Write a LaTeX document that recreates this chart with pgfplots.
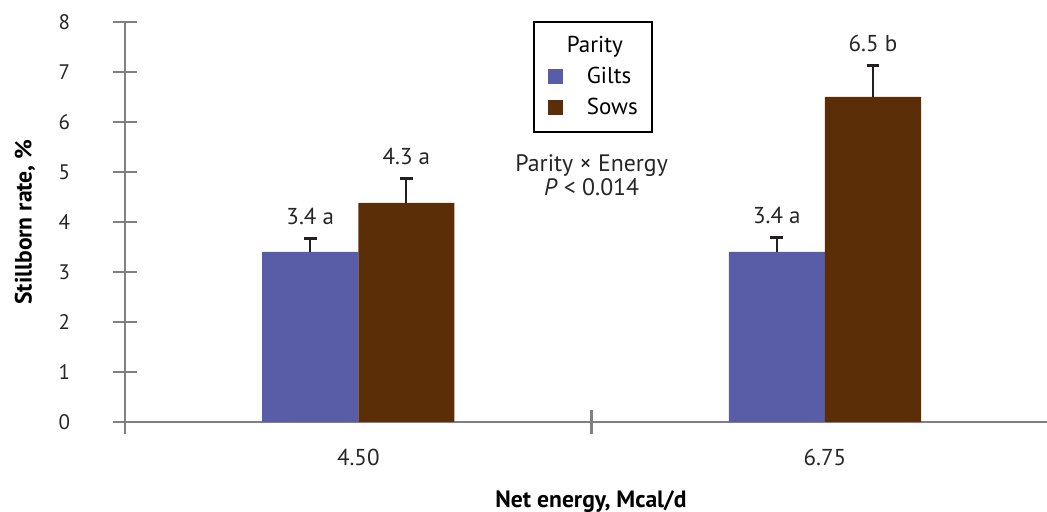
\documentclass[border=0pt]{standalone}
\usepackage{pgfplots}
\pgfplotsset{compat=1.18}
\usepackage{pgfplotstable}
\usepackage{fontspec}
\setmainfont{PT Sans}
\definecolor{gilts}{RGB}{89,93,168}
\definecolor{sows}{RGB}{91,46,7}
\definecolor{axgray}{RGB}{128,128,130}
\definecolor{errc}{RGB}{35,31,32}

\pgfplotstableread{
x y err top lab
1 3.40 0.27 3.67 {3.4 a}
2 3.40 0.29 3.69 {3.4 a}
}\giltsdata
\pgfplotstableread{
x y err top lab
1 4.38 0.48 4.86 {4.3 a}
2 6.50 0.62 7.12 {6.5 b}
}\sowsdata

\begin{document}
\begin{tikzpicture}
\begin{axis}[
  at={(0,0)}, anchor=south west,
  scale only axis, width=461pt, height=200pt,
  xmin=0.5, xmax=2.476, ymin=0, ymax=8,
  axis x line*=bottom, axis y line*=left,
  axis line style={-, draw=axgray, line width=1.3pt},
  ybar, bar width=0.206,
  /pgf/number format/assume math mode=true,
  tick align=center,
  major tick length=11.5pt, minor tick length=12pt,
  tick style={draw=axgray, line width=1.3pt},
  ytick={0,1,...,8},
  yticklabel style={font=\fontsize{10.5}{12}\selectfont, anchor=east, inner sep=0pt, xshift=-21.5pt, text=black!85},
  xtick={1,2}, xticklabels={4.50,6.75},
  major x tick style={draw=none},
  minor xtick={0.5,1.5,2.5},
  xticklabel style={font=\fontsize{11.5}{13}\selectfont, anchor=base, inner sep=0pt, yshift=-16pt, text=black!85},
  xlabel={Net energy, Mcal/d},
  ylabel={Stillborn rate, \%},
  every axis x label/.style={at={(axis description cs:0.5054,0)}, anchor=base, yshift=-42.5pt, font=\fontsize{11.8}{13}\selectfont\bfseries},
  every axis y label/.style={at={(axis description cs:-0.1085,0.5)}, anchor=center, rotate=90, font=\fontsize{11.8}{13}\selectfont\bfseries},
  legend style={at={(axis description cs:0.4424,1.0025)}, anchor=north west,
    draw=black, line width=1pt, font=\fontsize{11.5}{13}\selectfont,
    nodes={inner xsep=0pt, inner ysep=1.3pt},
    row sep=3pt, inner xsep=7pt, inner ysep=6pt,
    /tikz/every odd column/.append style={column sep=12pt}},
  legend cell align=left,
  legend image code/.code={\fill[#1] (0pt,-3.75pt) rectangle (7.5pt,3.75pt);},
  clip=false,
]
\addlegendimage{empty legend}
\addlegendentry{\hspace*{-10pt}Parity}

\addplot[fill=gilts, draw=none, bar shift=-0.103,
  error bars/.cd, y dir=plus, y explicit,
  error bar style={draw=errc, line width=1pt},
  error mark options={rotate=90, draw=errc, line width=1.5pt, mark size=3.2pt}]
  table[x=x, y=y, y error=err] {\giltsdata};
\addlegendentry{Gilts}

\addplot[fill=sows, draw=none, bar shift=0.103,
  error bars/.cd, y dir=plus, y explicit,
  error bar style={draw=errc, line width=1pt},
  error mark options={rotate=90, draw=errc, line width=1.5pt, mark size=3.2pt}]
  table[x=x, y=y, y error=err] {\sowsdata};
\addlegendentry{Sows}

\addplot[draw=none, fill=none, bar shift=-0.103, forget plot,
  nodes near coords, point meta=explicit symbolic,
  nodes near coords style={anchor=base, inner sep=0pt, yshift=7pt, text=black!85, font=\fontsize{11.5}{13}\selectfont}]
  table[x=x, y=top, meta=lab] {\giltsdata};
\addplot[draw=none, fill=none, bar shift=0.103, forget plot,
  nodes near coords, point meta=explicit symbolic,
  nodes near coords style={anchor=base, inner sep=0pt, yshift=7pt, text=black!85, font=\fontsize{11.5}{13}\selectfont}]
  table[x=x, y=top, meta=lab] {\sowsdata};

\node[anchor=base, inner sep=0pt, font=\fontsize{11.9}{13}\selectfont, text=black!85] at (axis cs:1.5,5.0) {Parity × Energy};
\node[anchor=base, inner sep=0pt, font=\fontsize{11.9}{13}\selectfont, text=black!85] at (axis cs:1.5,4.52) {\textit{P} < 0.014};
\end{axis}
\pgfresetboundingbox
\path[use as bounding box] (-62.5pt,-45pt) rectangle (461pt,211pt);
\end{tikzpicture}
\end{document}
